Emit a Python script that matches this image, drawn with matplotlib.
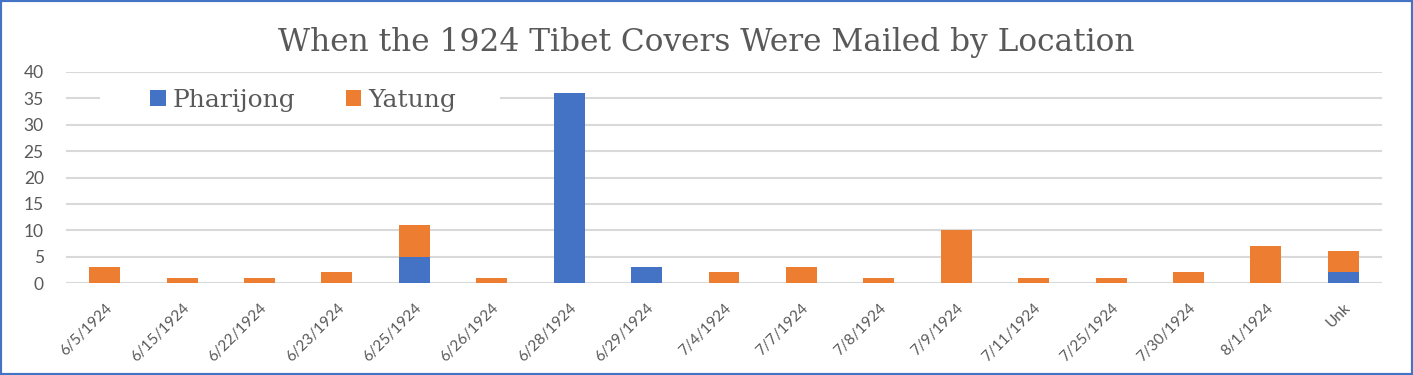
import matplotlib
matplotlib.use("Agg")
import matplotlib.pyplot as plt
from matplotlib.patches import Rectangle

categories = ["6/5/1924", "6/15/1924", "6/22/1924", "6/23/1924", "6/25/1924", "6/26/1924",
              "6/28/1924", "6/29/1924", "7/4/1924", "7/7/1924", "7/8/1924", "7/9/1924",
              "7/11/1924", "7/25/1924", "7/30/1924", "8/1/1924", "Unk"]
pharijong = [0, 0, 0, 0, 5, 0, 36, 3, 0, 0, 0, 0, 0, 0, 0, 0, 2]
yatung = [3, 1, 1, 2, 6, 1, 0, 0, 2, 3, 1, 10, 1, 1, 2, 7, 4]
yticks = [0, 5, 10, 15, 20, 25, 30, 35, 40]

blue = "#4472C4"
orange = "#ED7D31"
grid = "#D9D9D9"
textc = "#595959"

W, H = 1413, 375
fig = plt.figure(figsize=(W/100, H/100), dpi=100)
ax = fig.add_axes([66/W, 1-283/H, (1382-66)/W, (283-72)/H])

x = list(range(len(categories)))
ax.bar(x, pharijong, width=0.4, color=blue, label="Pharijong", zorder=3)
ax.bar(x, yatung, width=0.4, bottom=pharijong, color=orange, label="Yatung", zorder=3)

ax.set_xlim(-0.5, len(categories) - 0.5)
ax.set_ylim(0, 40)
ax.set_yticks(yticks)
ax.set_yticklabels([str(v) for v in yticks], fontsize=12.5, color=textc, family="Lato")
ax.set_xticks(x)
ax.set_xticklabels(categories, rotation=45, ha="right", rotation_mode="anchor",
                   fontsize=11, color=textc, family="Lato")
ax.tick_params(axis="both", length=0)
ax.tick_params(axis="y", pad=16)
ax.tick_params(axis="x", pad=13)
for s in ax.spines.values():
    s.set_visible(False)
ax.yaxis.grid(True, color=grid, linewidth=1.5, zorder=0)
ax.set_axisbelow(True)

# white legend area (hides part of the 35 gridline)
ax.add_patch(Rectangle(((100-66)/1316, (283-120)/211), (500-100)/1316, 40/211,
                       transform=ax.transAxes, facecolor="white", edgecolor="none", zorder=1))

leg = ax.legend(loc="center left", bbox_to_anchor=((150-66)/1316, (283-100)/211), ncol=2,
                frameon=False, prop={"family": "DejaVu Serif", "size": 18},
                handlelength=0.62, handleheight=0.62, columnspacing=2.0,
                handletextpad=0.3, borderpad=0.0, borderaxespad=0.0)
for t in leg.get_texts():
    t.set_color(textc)

fig.text(0.5, 1 - 43/H, "When the 1924 Tibet Covers Were Mailed by Location",
         ha="center", va="center", fontsize=22.5, color=textc, family="DejaVu Serif")

fig.patches.append(Rectangle((0, 0), 1, 1, transform=fig.transFigure, fill=False,
                             edgecolor=blue, linewidth=3, zorder=10))

fig.savefig("out.png", dpi=100, facecolor="white")
